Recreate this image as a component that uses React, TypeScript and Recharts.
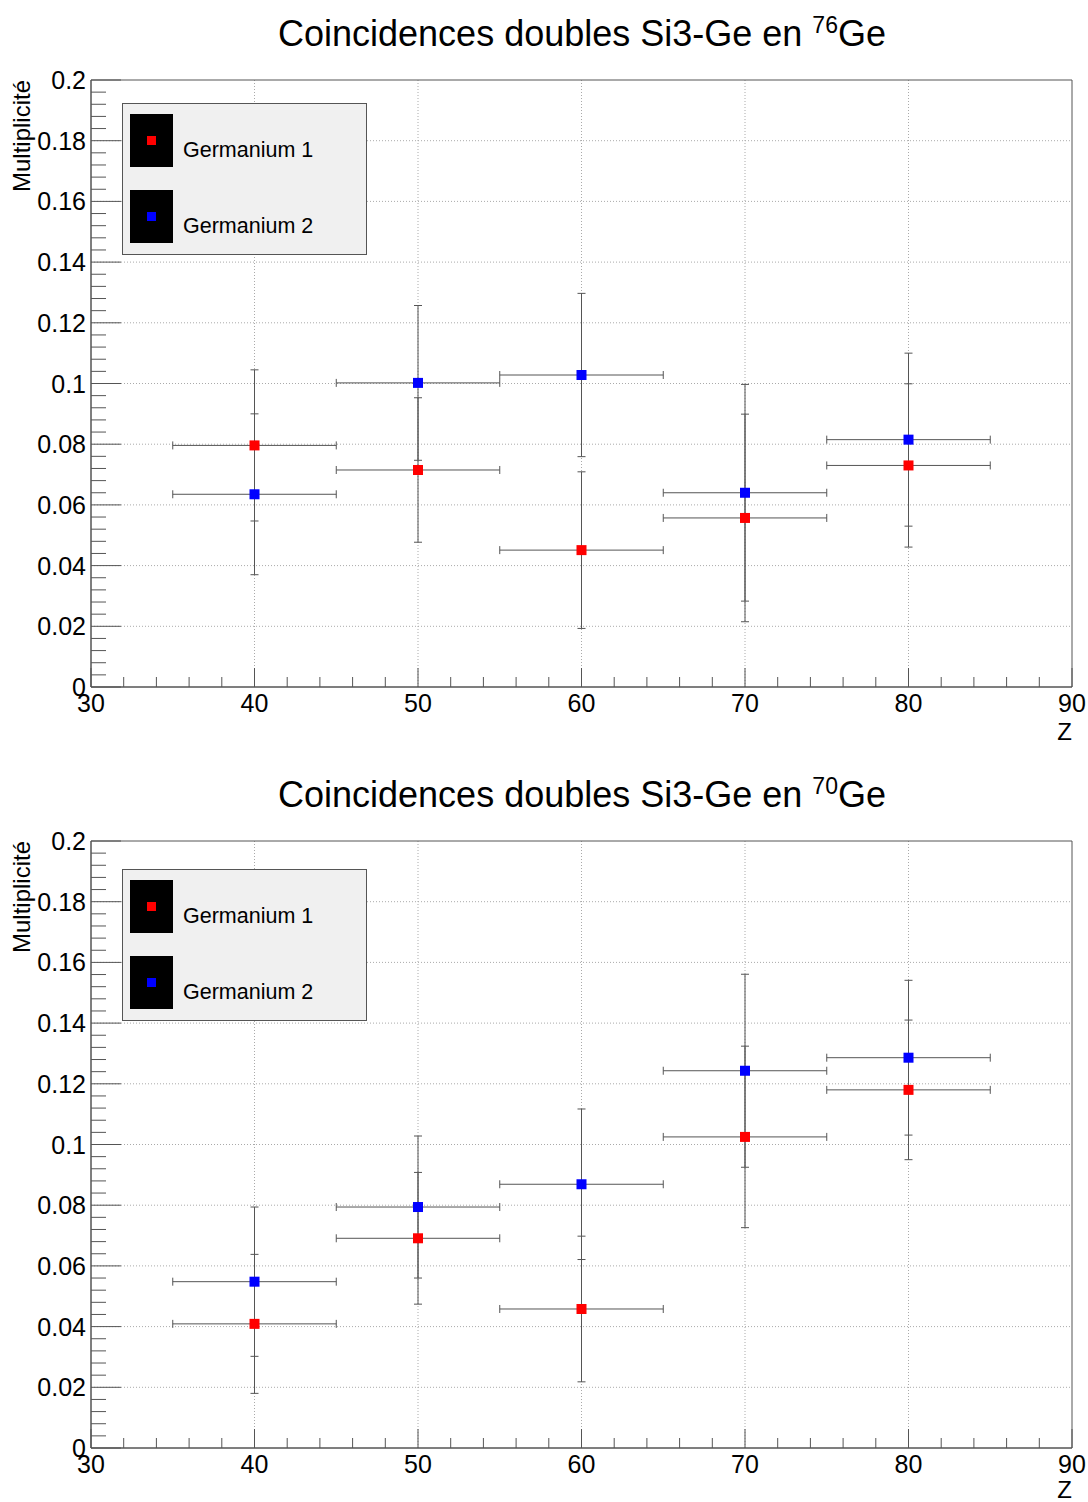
import React from 'react';
import { ScatterChart, Scatter, XAxis, YAxis, CartesianGrid, ErrorBar, ReferenceArea, Legend } from 'recharts';

// Z bins (centre, half width)
const zValues = [40, 50, 60, 70, 80];
const zHalfWidth = [5, 5, 5, 5, 5];

// 76Ge
const ge76Det1 = [0.0796, 0.0715, 0.0451, 0.0557, 0.073];
const ge76Det1Err = [0.0249, 0.0238, 0.0258, 0.0342, 0.0269];
const ge76Det2 = [0.0635, 0.1002, 0.1028, 0.064, 0.0815];
const ge76Det2Err = [0.0265, 0.0255, 0.0269, 0.0357, 0.0285];

// 70Ge
const ge70Det1 = [0.0409, 0.0691, 0.0458, 0.1025, 0.118];
const ge70Det1Err = [0.0229, 0.0217, 0.024, 0.0299, 0.023];
const ge70Det2 = [0.0548, 0.0794, 0.0869, 0.1243, 0.1286];
const ge70Det2Err = [0.0246, 0.0234, 0.0248, 0.0318, 0.0255];

const xMajor = [30, 40, 50, 60, 70, 80, 90];
const xLabels = ['30', '40', '50', '60', '70', '80', '90'];
const yMajor = [0, 0.02, 0.04, 0.06, 0.08, 0.1, 0.12, 0.14, 0.16, 0.18, 0.2];
const yLabels = ['0', '0.02', '0.04', '0.06', '0.08', '0.1', '0.12', '0.14', '0.16', '0.18', '0.2'];

const seriesNames = ['Germanium 1', 'Germanium 2'];
const seriesColors = ['#ff0000', '#0000ff'];

const FONT = '"Liberation Sans", Arial, Helvetica, sans-serif';
const AXIS = '#555';

// minor ticks: 5 subdivisions between majors
const subdivide = (major: number[], n: number) => {
  const out: number[] = [];
  for (let i = 0; i < major.length - 1; i++) {
    for (let k = 0; k < n; k++) {
      out.push(Number((major[i] + ((major[i + 1] - major[i]) * k) / n).toFixed(4)));
    }
  }
  out.push(major[major.length - 1]);
  return out;
};
const xTicks = subdivide(xMajor, 5);
const yTicks = subdivide(yMajor, 5);

const XTick = (props: any) => {
  const { x, y, payload } = props;
  const idx = xMajor.indexOf(payload.value);
  const major = idx >= 0;
  return (
    <g>
      <line x1={x} y1={y} x2={x} y2={y - (major ? 19 : 10)} stroke={AXIS} strokeWidth={1} />
      {major && (
        <text x={x} y={y + 25} textAnchor="middle" fontSize={25} fontFamily={FONT} fill="#000">
          {xLabels[idx]}
        </text>
      )}
    </g>
  );
};

const YTick = (props: any) => {
  const { x, y, payload } = props;
  const idx = yMajor.findIndex((m) => Math.abs(m - payload.value) < 1e-6);
  const major = idx >= 0;
  return (
    <g>
      <line x1={x} y1={y} x2={x + (major ? 30 : 15)} y2={y} stroke={AXIS} strokeWidth={1} />
      {major && (
        <text x={x - 5} y={y + 9} textAnchor="end" fontSize={25} fontFamily={FONT} fill="#000">
          {yLabels[idx]}
        </text>
      )}
    </g>
  );
};

const square = (color: string) => (p: any) => (
  <rect x={p.cx - 5} y={p.cy - 5} width={10} height={10} fill={color} />
);

const LegendBox = () => (
  <div
    style={{
      width: 245,
      height: 152,
      background: '#f0f0f0',
      border: `1px solid ${AXIS}`,
      boxSizing: 'border-box',
      position: 'relative',
      fontFamily: FONT,
    }}
  >
    {seriesNames.map((name, i) => (
      <React.Fragment key={name}>
        <div
          style={{ position: 'absolute', left: 7, top: 10 + i * 76, width: 43, height: 53, background: '#000' }}
        >
          <div
            style={{ position: 'absolute', left: 17, top: 22, width: 9, height: 9, background: seriesColors[i] }}
          />
        </div>
        <div
          style={{ position: 'absolute', left: 60, top: 33 + i * 76, fontSize: 21.5, lineHeight: '26px', color: '#000', whiteSpace: 'nowrap' }}
        >
          {name}
        </div>
      </React.Fragment>
    ))}
  </div>
);

type PanelProps = {
  iso: string;
  det1: number[];
  det1Err: number[];
  det2: number[];
  det2Err: number[];
  plotTop: number;
  legendTop: number;
};

const W = 1088;
const H = 751;
const PLOT_H = 607;
const PLOT_LEFT = 91;
const PLOT_RIGHT = 1072;

const Panel = ({ iso, det1, det1Err, det2, det2Err, plotTop, legendTop }: PanelProps) => {
  const plotBottom = plotTop + PLOT_H;
  const xAxisH = 40;
  const yAxisW = 60;
  const d1 = zValues.map((z, i) => ({ z, v: det1[i], ez: zHalfWidth[i], ev: det1Err[i] }));
  const d2 = zValues.map((z, i) => ({ z, v: det2[i], ez: zHalfWidth[i], ev: det2Err[i] }));
  return (
    <div style={{ position: 'relative', width: W, height: H }}>
      <ScatterChart
        width={W}
        height={H}
        margin={{ top: plotTop, right: W - PLOT_RIGHT, bottom: H - plotBottom - xAxisH, left: PLOT_LEFT - yAxisW }}
      >
        <CartesianGrid
          stroke="#aaa"
          strokeDasharray="1 2"
          horizontalValues={yMajor.slice(1, -1)}
          verticalValues={xMajor.slice(1, -1)}
        />
        <XAxis
          type="number"
          dataKey="z"
          domain={[30, 90]}
          ticks={xTicks}
          interval={0}
          tickSize={0}
          tickMargin={0}
          tickLine={false}
          tick={<XTick />}
          axisLine={{ stroke: AXIS }}
          height={xAxisH}
          allowDataOverflow
        />
        <YAxis
          type="number"
          dataKey="v"
          domain={[0, 0.2]}
          ticks={yTicks}
          interval={0}
          tickSize={0}
          tickMargin={0}
          tickLine={false}
          tick={<YTick />}
          axisLine={{ stroke: AXIS }}
          width={yAxisW}
          allowDataOverflow
        />
        <ReferenceArea x1={30} x2={90} y1={0} y2={0.2} fill="none" stroke={AXIS} strokeWidth={1} />
        <Legend
          layout="horizontal"
          verticalAlign="middle"
          align="center"
          content={() => <LegendBox />}
          wrapperStyle={{ position: 'absolute', left: 122, top: legendTop, width: 245, height: 152 }}
        />
        <Scatter name={seriesNames[0]} data={d1} shape={square(seriesColors[0])} isAnimationActive={false}>
          <ErrorBar dataKey="ev" direction="y" width={4} stroke={AXIS} strokeWidth={1} isAnimationActive={false} />
          <ErrorBar dataKey="ez" direction="x" width={4} stroke={AXIS} strokeWidth={1} isAnimationActive={false} />
        </Scatter>
        <Scatter name={seriesNames[1]} data={d2} shape={square(seriesColors[1])} isAnimationActive={false}>
          <ErrorBar dataKey="ev" direction="y" width={4} stroke={AXIS} strokeWidth={1} isAnimationActive={false} />
          <ErrorBar dataKey="ez" direction="x" width={4} stroke={AXIS} strokeWidth={1} isAnimationActive={false} />
        </Scatter>
      </ScatterChart>
      <svg
        width={W}
        height={H}
        style={{ position: 'absolute', left: 0, top: 0, pointerEvents: 'none' }}
        fontFamily={FONT}
      >
        <text x={582} y={plotTop - 34} textAnchor="middle" fontSize={36} fill="#000">
          Coincidences doubles Si3-Ge en <tspan dy={-13} fontSize={23}>{iso}</tspan>
          <tspan dy={13} fontSize={36}>Ge</tspan>
        </text>
        <text x={30} y={plotTop} textAnchor="end" fontSize={24} fill="#000" transform={`rotate(-90 30 ${plotTop})`}>
          Multiplicité
        </text>
        <text x={PLOT_RIGHT} y={Math.min(plotBottom + 53, H - 4)} textAnchor="end" fontSize={24} fill="#000">
          Z
        </text>
      </svg>
    </div>
  );
};

export default function App() {
  return (
    <div style={{ position: 'absolute', left: 0, top: 0, width: W, height: 1502, background: '#fff' }}>
      <Panel iso="76" det1={ge76Det1} det1Err={ge76Det1Err} det2={ge76Det2} det2Err={ge76Det2Err} plotTop={80} legendTop={103} />
      <Panel iso="70" det1={ge70Det1} det1Err={ge70Det1Err} det2={ge70Det2} det2Err={ge70Det2Err} plotTop={90} legendTop={118} />
    </div>
  );
}
